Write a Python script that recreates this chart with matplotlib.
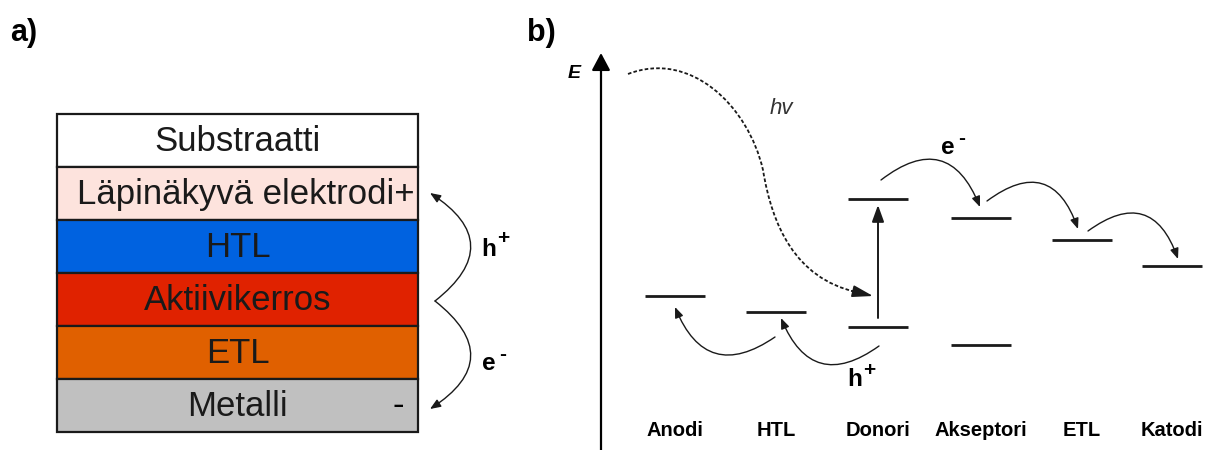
import matplotlib

matplotlib.use("Agg")

import matplotlib.pyplot as plt  # noqa: E402
from matplotlib.patches import FancyArrowPatch, PathPatch, Rectangle  # noqa: E402
from matplotlib.path import Path  # noqa: E402

plt.rcParams["font.family"] = ["Liberation Sans", "DejaVu Sans"]

# panel a: device stack, top to bottom
layer_names = ["Substraatti", "Läpinäkyvä elektrodi+", "HTL", "Aktiivikerros", "ETL", "Metalli"]
layer_colors = ["#ffffff", "#fde3dd", "#0062e0", "#e02200", "#e06000", "#c0c0c0"]

# panel b: energy levels (pixel rows, smaller = higher energy)
level_names = ["Anodi", "HTL", "Donori", "Akseptori", "ETL", "Katodi"]
level_upper = [None, None, 199, 218, 240, 266]
level_lower = [296, 312, 327, 345, None, None]

W, H = 1206, 450
STACK_X0, STACK_X1, STACK_TOP, LAYER_H = 57, 418, 114, 53
COL_X = [675, 776, 878, 981, 1082, 1172]
LEVEL_HALF = 30
AXIS_X = 601
INK = "#1a1a1a"


def arrow(ax, p0, p1, rad):
    ax.add_patch(FancyArrowPatch(p0, p1, connectionstyle=f"arc3,rad={rad}",
                                 arrowstyle="-|>,head_length=0.45,head_width=0.18",
                                 mutation_scale=14, lw=1.0, color=INK,
                                 shrinkA=0, shrinkB=0))


def carrier(ax, x, y, base, sign):
    # bold letter with a small raised sign
    ax.text(x, y, base, fontsize=17.5, fontweight="bold", ha="center", va="center")
    ax.text(x + 14, y - 10, sign, fontsize=15, fontweight="bold", ha="center", va="center")


fig = plt.figure(figsize=(W / 100, H / 100), dpi=100)
ax = fig.add_axes([0, 0, 1, 1])
ax.set_xlim(0, W)
ax.set_ylim(H, 0)
ax.axis("off")

# ---- panel a ----
ax.text(24, 33, "a)", fontsize=22, fontweight="bold", ha="center", va="center")
text_dx = [0, 8, 0, 0, 0, 0]
for i, (name, color) in enumerate(zip(layer_names, layer_colors)):
    y = STACK_TOP + i * LAYER_H
    ax.add_patch(Rectangle((STACK_X0, y), STACK_X1 - STACK_X0, LAYER_H,
                           facecolor=color, edgecolor=INK, lw=1.6))
    ax.text((STACK_X0 + STACK_X1) / 2 + text_dx[i], y + LAYER_H / 2 + 1, name,
            fontsize=25, ha="center", va="center", color=INK)
ax.text(398, STACK_TOP + 5.5 * LAYER_H, "-", fontsize=25, ha="center", va="center")

cusp = (435, 301)
arrow(ax, cusp, (430, 193), 0.7)
arrow(ax, cusp, (430, 409), -0.7)
carrier(ax, 489, 249, "h", "+")
carrier(ax, 489, 364, "e", "-")

# ---- panel b ----
ax.text(541, 33, "b)", fontsize=22, fontweight="bold", ha="center", va="center")
ax.add_patch(FancyArrowPatch((AXIS_X, H + 5), (AXIS_X, 53),
                             arrowstyle="-|>,head_length=0.75,head_width=0.4",
                             mutation_scale=14, lw=1.6, color="black",
                             shrinkA=0, shrinkB=0))
ax.text(574, 74, "E", fontsize=14, fontweight="bold", style="italic",
        ha="center", va="center")

for x, name, up, lo in zip(COL_X, level_names, level_upper, level_lower):
    for lvl in (up, lo):
        if lvl is not None:
            ax.plot([x - LEVEL_HALF, x + LEVEL_HALF], [lvl, lvl], color=INK,
                    lw=2.0, solid_capstyle="butt")
    ax.text(x, 430, name, fontsize=14.5, fontweight="bold", ha="center", va="center")

# excitation in the donor
ax.add_patch(FancyArrowPatch((878, 318), (878, 205),
                             arrowstyle="-|>,head_length=0.72,head_width=0.26",
                             mutation_scale=14, lw=1.4, color=INK,
                             shrinkA=0, shrinkB=0))

# photon path: dotted curve plus a solid head
verts = [(628, 74), (690, 50), (748, 105), (763, 170),
         (772, 225), (795, 278), (856, 292)]
codes = [Path.MOVETO] + [Path.CURVE4] * 6
ax.add_patch(PathPatch(Path(verts, codes), fill=False, lw=1.3, edgecolor=INK,
                       linestyle=(0, (2, 1.2))))
ax.add_patch(FancyArrowPatch((852, 291), (873, 296),
                             arrowstyle="-|>,head_length=0.9,head_width=0.26",
                             mutation_scale=14, lw=1.2, color=INK,
                             shrinkA=0, shrinkB=0))
ax.text(781, 109, "hv", fontsize=16, style="italic", ha="center", va="center",
        color="#333333")

# electron hops
arrow(ax, (881, 180), (980, 207), -0.66)
arrow(ax, (987, 201), (1078, 229), -0.68)
arrow(ax, (1088, 231), (1178, 259), -0.67)
carrier(ax, 948, 148, "e", "-")

# hole hops
arrow(ax, (775, 337), (675, 307), -0.62)
arrow(ax, (879, 346), (781, 318), -0.63)
carrier(ax, 855, 380, "h", "+")

fig.savefig("out.png", dpi=100)
